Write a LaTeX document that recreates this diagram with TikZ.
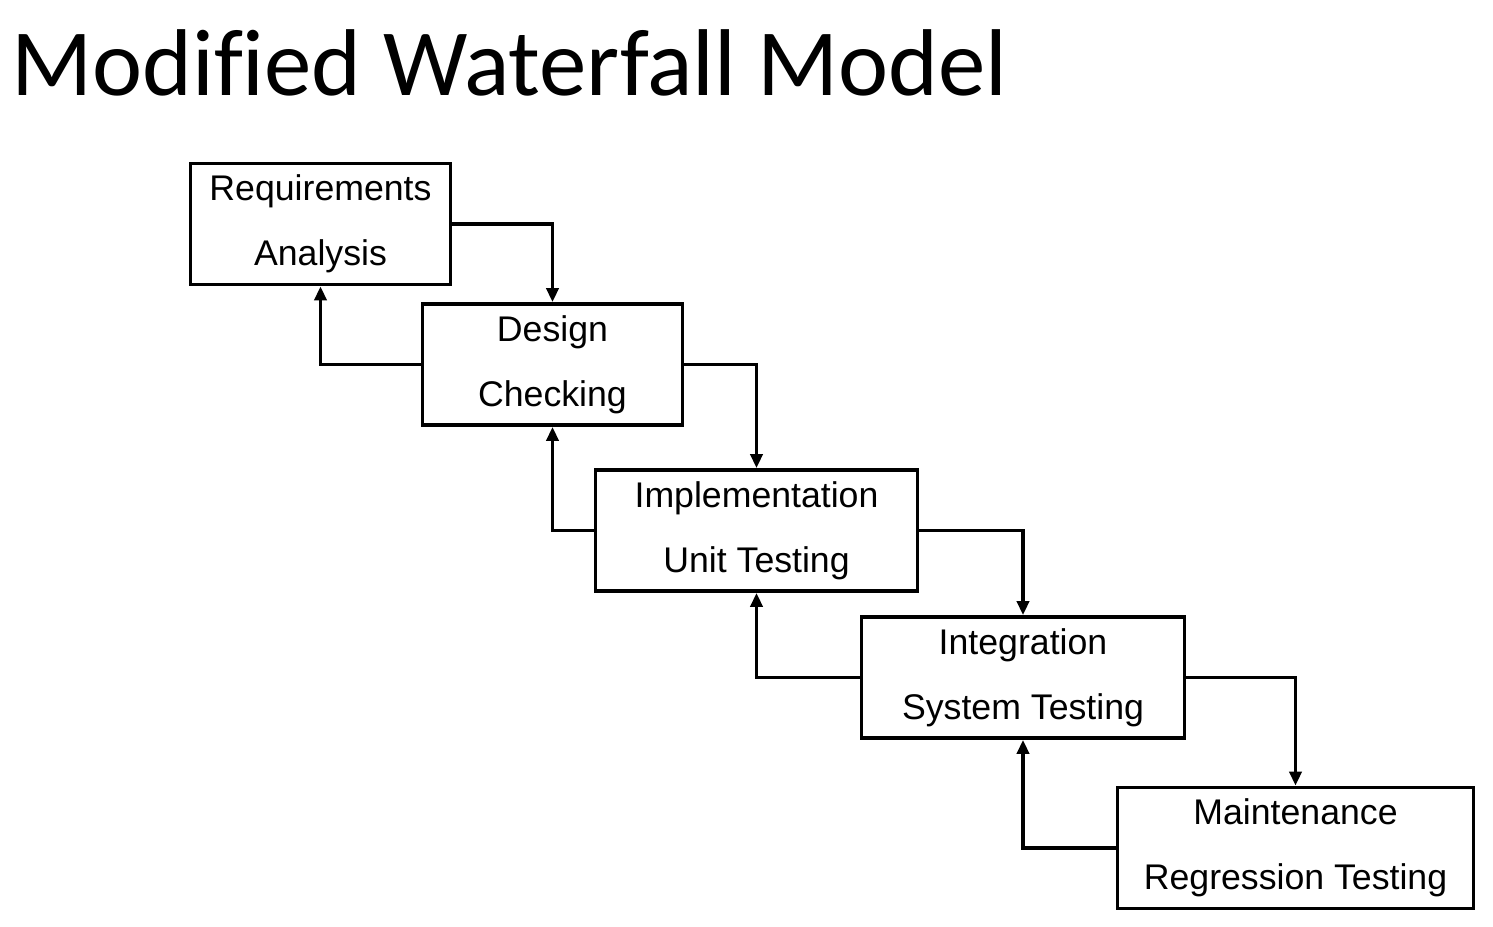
\documentclass[tikz,border=0pt]{standalone}
\usepackage{fontspec}
\setmainfont{Liberation Sans}
\newfontfamily\titlefont[Ligatures=NoCommon]{Carlito}
\usetikzlibrary{arrows.meta, positioning}

\begin{document}
\begin{tikzpicture}[
  x=0.02cm, y=-0.02cm,
  font=\fontsize{20.3}{37}\selectfont,
  stage/.style={draw, line width=2.1pt, align=center, minimum height=2.42cm, inner sep=2pt, fill=white},
  arr/.style={-{Triangle[length=2.8mm, width=2.4mm]}, line width=2.1pt},
]
\useasboundingbox (0,0) rectangle (1493,926);

\node[anchor=base west, inner sep=0pt, font=\titlefont\fontsize{54}{60}\selectfont] (title) at (11,95) {Modified Waterfall Model};

\node[stage, minimum width=5.2cm] (req) at (320.5,224) {Requirements\\Analysis};
\node[stage, minimum width=5.2cm] (des) at (552.5,364.5) {Design\\Checking};
\node[stage, minimum width=6.44cm] (imp) at (756.5,530.5) {Implementation\\Unit Testing};
\node[stage, minimum width=6.46cm] (int) at (1023,677.5) {Integration\\System Testing};
\node[stage, minimum width=7.12cm] (mnt) at (1295.5,848) {Maintenance\\Regression Testing};

% forward flow
\draw[arr] (req.east) -| (des.north);
\draw[arr] (des.east) -| (imp.north);
\draw[arr] (imp.east) -| (int.north);
\draw[arr] (int.east) -| (mnt.north);
% feedback
\draw[arr] (des.west) -| (req.south);
\draw[arr] (imp.west) -| (des.south);
\draw[arr] (int.west) -| (imp.south);
\draw[arr] (mnt.west) -| (int.south);
\end{tikzpicture}
\end{document}
